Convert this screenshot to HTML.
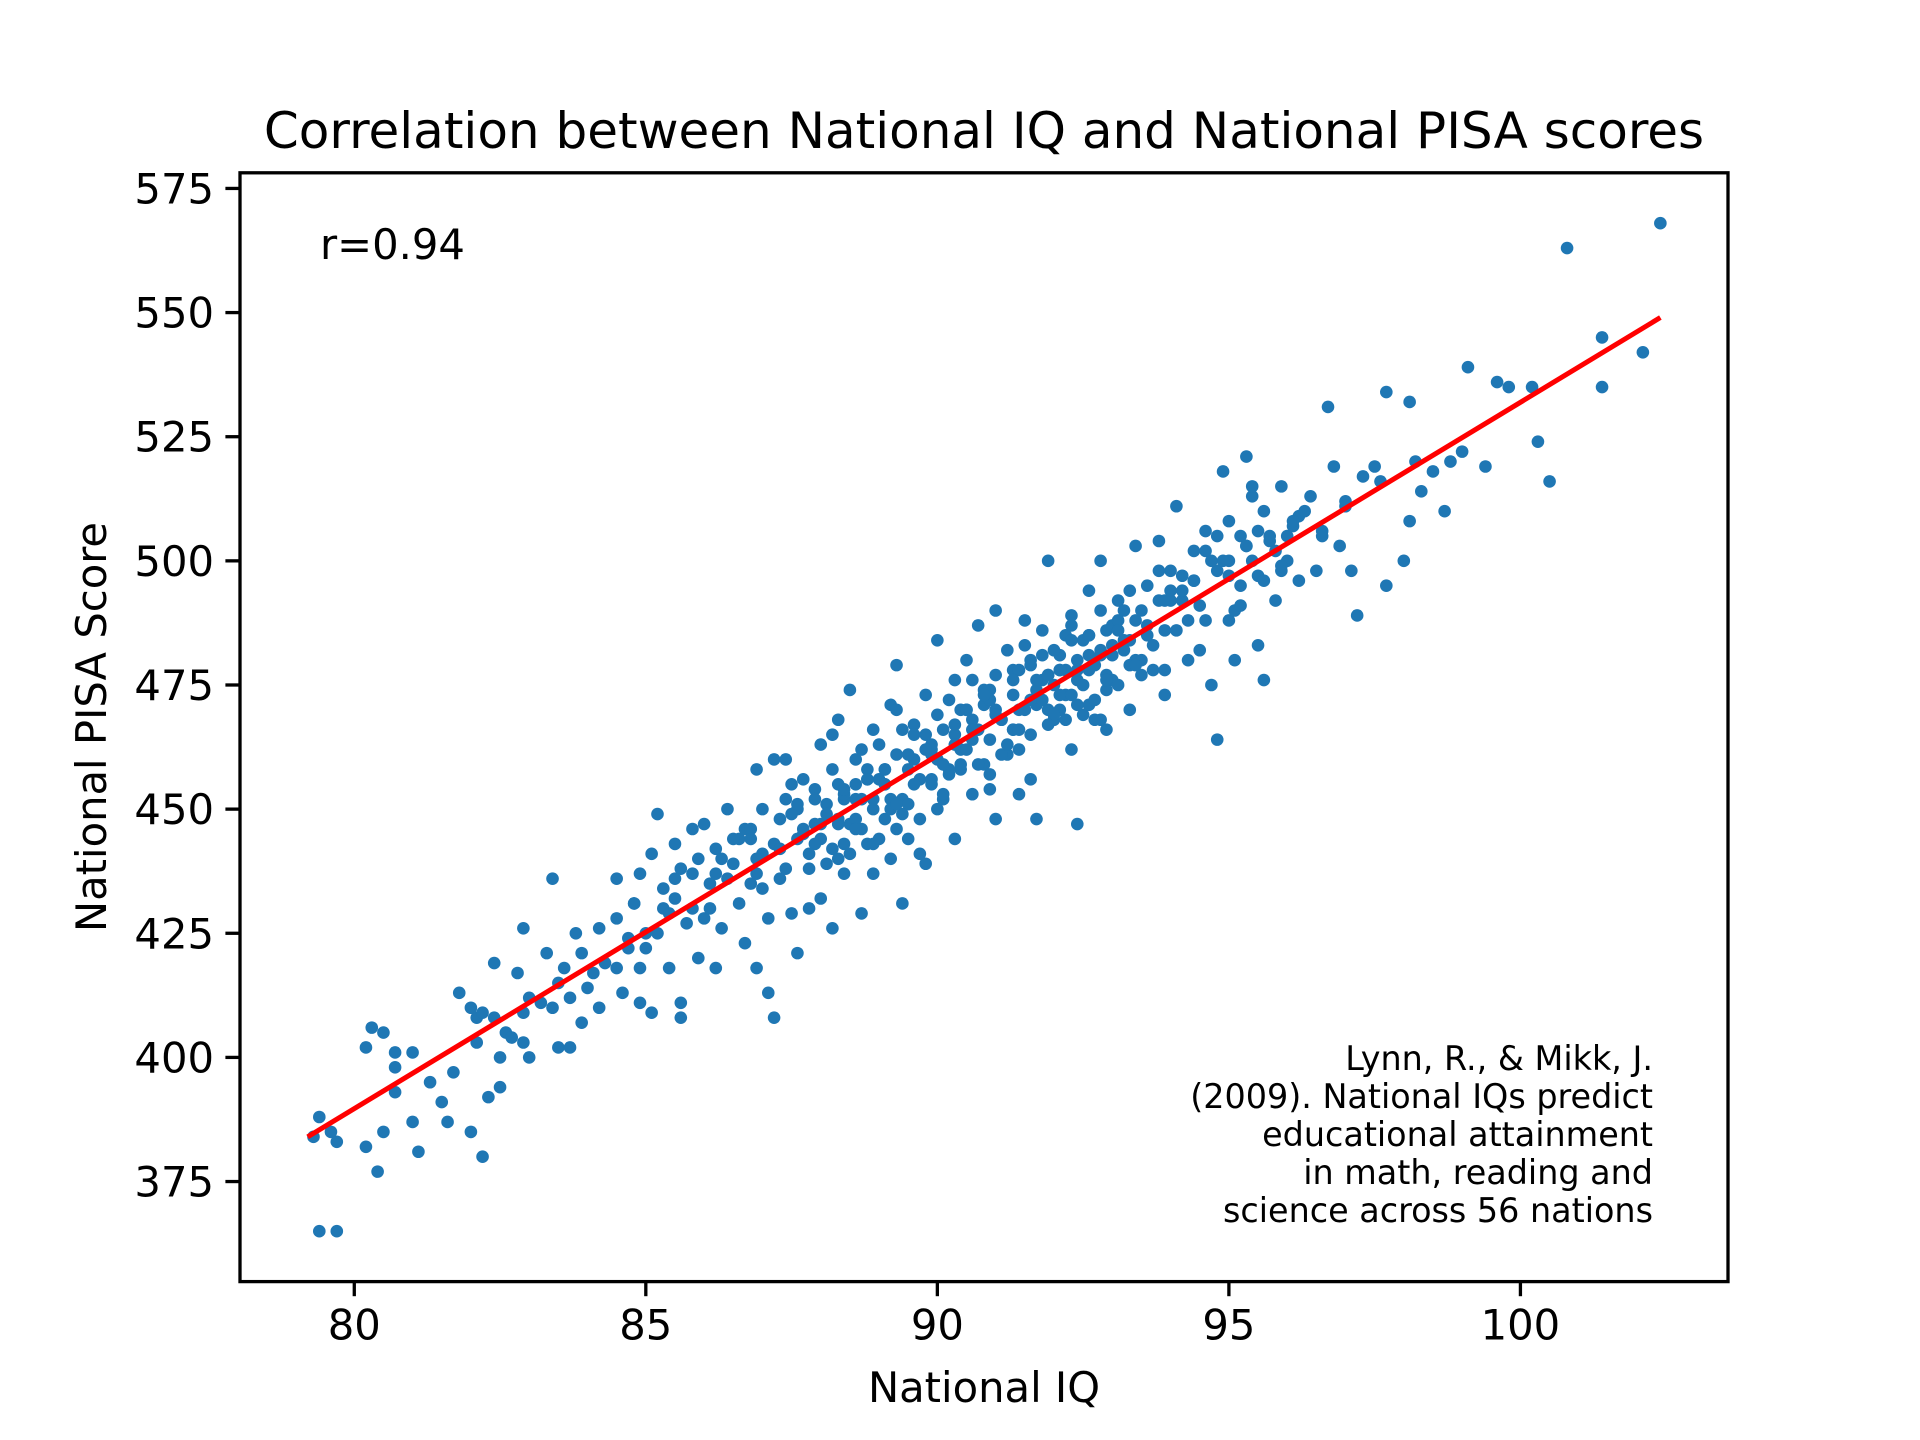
<!DOCTYPE html>
<html><head><meta charset="utf-8"><style>
html,body{margin:0;padding:0;background:#fff;}
svg{display:block;font-family:"DejaVu Sans","Liberation Sans",sans-serif;}
</style></head><body>
<svg id="chart" width="1920" height="1440" viewBox="0 0 1920 1440">
<rect x="0" y="0" width="1920" height="1440" fill="#fff"/>
<text x="984" y="148" font-size="50" text-anchor="middle">Correlation between National IQ and National PISA scores</text>
<g id="points"></g>
<g id="fit"></g>
<g id="xticks"></g>
<g id="yticks"></g>
<rect x="240" y="172.8" width="1488" height="1108.8" fill="none" stroke="#000" stroke-width="3.3"/>
<text x="320" y="259" font-size="41.7">r=0.94</text>
<g font-size="33.4" text-anchor="end">
<text x="1653" y="1070">Lynn, R., &amp; Mikk, J.</text>
<text x="1653" y="1108">(2009). National IQs predict</text>
<text x="1653" y="1146">educational attainment</text>
<text x="1653" y="1184">in math, reading and</text>
<text x="1653" y="1222">science across 56 nations</text>
</g>
<text x="984" y="1402" font-size="41.7" text-anchor="middle">National IQ</text>
<text x="0" y="0" font-size="41.7" text-anchor="middle" transform="translate(106,727) rotate(-90)">National PISA Score</text>
</svg>
<script>
const xTicks = [80, 85, 90, 95, 100];
const yTicks = [375, 400, 425, 450, 475, 500, 525, 550, 575];
const fitX = [79.2, 102.4];
const fitY = [384, 549];
const iqValues = [79.4,79.7,79.3,79.4,79.6,79.7,80.2,80.2,80.3,80.5,80.4,80.7,80.7,80.7,80.5,81.0,81.0,81.1,81.3,81.5,81.6,81.7,81.8,82.0,82.0,82.1,82.1,82.2,82.2,82.3,82.4,82.4,82.5,82.5,82.6,82.7,82.8,82.9,82.9,82.9,83.0,83.2,83.4,83.4,83.3,83.5,83.5,83.7,83.7,83.8,83.9,83.9,84.1,84.2,84.3,84.5,84.5,84.6,84.7,84.8,84.9,84.9,84.9,85.0,85.1,85.1,85.2,85.3,85.4,85.5,85.5,85.6,85.6,85.7,85.8,85.8,85.9,86.0,86.1,86.2,86.2,86.3,86.4,86.5,86.6,86.7,86.7,86.8,86.9,86.9,87.0,87.1,87.1,87.2,87.2,87.3,87.3,87.4,87.5,87.6,87.6,87.7,87.8,87.9,88.0,88.0,88.1,88.2,88.2,88.3,88.3,88.4,88.5,88.5,88.6,88.7,88.7,88.8,88.9,88.9,89.0,89.1,89.2,89.2,89.3,89.3,89.4,89.4,89.5,89.6,89.7,89.8,89.8,89.9,90.0,90.0,90.1,90.2,90.3,90.3,90.4,90.5,90.6,90.7,90.7,90.8,90.9,91.0,91.0,91.1,91.2,91.3,91.4,91.4,91.5,91.6,91.7,91.7,91.8,91.9,91.9,92.0,92.1,92.2,92.3,92.3,92.4,92.4,92.5,92.6,92.6,92.7,92.8,92.9,92.9,93.0,93.1,93.2,93.3,93.4,93.4,93.5,93.6,93.7,93.8,93.9,94.0,94.1,94.1,94.2,94.3,94.4,94.5,94.6,94.7,94.8,94.8,94.9,95.0,95.0,95.1,95.2,95.3,95.3,95.4,95.5,95.5,95.6,95.6,95.7,95.8,95.9,96.0,96.1,96.2,96.4,96.5,96.6,96.7,96.8,96.9,97.0,97.1,97.2,97.3,97.5,97.6,97.7,97.7,98.0,98.1,98.1,98.2,98.3,98.5,98.7,98.8,99.0,99.1,99.4,99.6,99.8,100.2,100.3,100.5,100.8,101.4,101.4,102.1,102.4,
86.3,86.6,86.9,87.0,87.2,87.4,87.5,87.7,87.8,87.9,88.0,88.1,88.2,88.3,88.4,88.5,88.6,88.6,88.7,88.8,88.9,89.0,89.0,89.1,89.2,89.3,89.4,89.5,89.5,89.6,89.7,89.8,89.9,90.0,90.0,90.1,90.2,90.3,90.4,90.4,90.5,90.6,90.6,90.7,90.8,90.9,91.0,91.0,91.1,91.2,91.3,91.3,91.4,91.5,91.6,91.7,91.8,91.9,92.0,92.0,92.1,92.2,92.2,92.3,92.4,92.5,92.6,92.6,92.7,92.8,92.9,93.0,93.0,93.1,93.2,93.3,93.4,93.5,93.6,93.7,93.8,93.9,94.0,94.2,94.4,94.6,94.8,95.0,95.2,95.4,95.6,95.8,96.0,85.5,85.8,86.0,85.2,84.5,84.0,83.6,83.0,88.9,89.7,90.9,91.6,92.8,93.9,94.5,89.3,88.2,87.4,90.5,91.5,
84.2,84.8,85.3,85.9,86.4,86.8,87.3,87.6,88.0,88.4,88.7,89.1,89.5,89.9,90.2,90.6,91.0,91.3,91.7,92.1,92.4,92.8,93.2,93.6,94.0,94.4,94.9,95.3,95.7,96.2,96.6,97.0,
85.0,85.6,86.1,86.5,87.0,87.5,87.9,88.3,88.8,89.2,89.6,90.1,90.5,90.8,91.2,91.6,92.0,92.3,92.7,93.1,93.5,93.9,94.3,94.7,95.1,95.5,95.9,96.3,
91.8,92.1,92.5,92.9,93.3,92.2,91.9,92.6,93.0,90.9,91.4,89.9,90.3,88.6,89.1,87.7,86.9,88.4,95.2,95.9,96.1,95.4,
87.6,87.9,88.1,88.4,88.6,88.9,89.1,89.4,89.6,89.9,90.1,90.4,90.6,90.9,91.1,91.4,91.6,91.9,92.1,92.4,92.6,92.9,93.1,93.4,
87.8,88.3,88.8,89.3,89.8,90.3,90.8,91.3,91.8,92.3,92.8,93.3,93.8,86.8,86.2,85.4,84.7,94.2,94.6,95.0];
const pisaValues = [365,365,384,388,385,383,382,402,406,405,377,398,393,401,385,401,387,381,395,391,387,397,413,385,410,408,403,380,409,392,419,408,400,394,405,404,417,409,403,426,400,411,410,436,421,402,415,412,402,425,421,407,417,410,419,436,428,413,422,431,418,437,411,425,409,441,449,430,418,443,432,411,408,427,446,437,420,447,435,418,442,426,450,439,431,423,446,435,418,458,441,428,413,408,460,448,436,452,429,444,421,456,438,447,463,432,451,426,442,468,455,437,474,447,460,429,452,443,466,437,456,448,471,440,461,479,431,452,444,467,456,439,473,462,484,450,466,457,444,476,462,470,453,487,466,459,474,448,490,468,461,478,470,453,483,465,474,448,486,477,500,468,481,473,489,462,476,447,484,494,471,479,500,486,466,476,492,482,470,503,488,477,495,483,504,473,492,511,486,497,480,502,491,506,475,464,498,518,488,508,480,495,521,503,513,483,497,510,476,504,492,515,500,507,496,513,498,506,531,519,503,512,498,489,517,519,516,495,534,500,532,508,520,514,518,510,520,522,539,519,536,535,535,524,516,563,545,535,542,568,
440,444,437,450,443,438,455,446,430,454,444,439,458,447,452,441,455,448,462,456,450,444,463,458,452,446,466,458,451,460,448,465,455,469,460,452,472,465,458,470,462,476,468,459,471,464,477,470,461,482,473,466,478,470,480,471,476,470,482,475,470,485,478,473,480,475,485,478,472,482,477,487,481,475,490,484,480,490,485,478,492,486,498,492,496,488,505,500,505,500,496,502,505,436,430,428,425,418,414,418,412,443,441,454,456,468,478,482,470,465,460,480,488,
426,431,434,440,436,446,442,450,447,453,446,455,461,463,458,466,469,466,476,473,478,481,484,487,494,496,500,503,505,509,505,511,
422,438,430,444,434,449,452,440,458,450,465,459,470,474,463,479,469,484,468,488,480,492,488,500,490,506,498,510,
472,478,469,474,479,468,477,485,483,472,466,456,463,452,455,445,440,443,491,499,508,515,
451,443,449,454,446,452,458,449,455,461,453,459,464,457,468,462,472,467,478,471,481,476,486,479,
441,448,456,451,462,467,473,476,481,487,490,494,498,444,437,429,424,494,502,497];

const L=240,R=1728,T=172.8,B=1281.6;
const xMin=78.04,xMax=103.56,yMin=354.85,yMax=578.15;
function sx(v){return L+(v-xMin)/(xMax-xMin)*(R-L);}
function sy(v){return B-(v-yMin)/(yMax-yMin)*(B-T);}
const NS='http://www.w3.org/2000/svg';
const pg=document.getElementById('points');
for(let i=0;i<iqValues.length;i++){
  const c=document.createElementNS(NS,'circle');
  c.setAttribute('cx',sx(iqValues[i]));
  c.setAttribute('cy',sy(pisaValues[i]));
  c.setAttribute('r',6.3);
  c.setAttribute('fill','#1f77b4');
  
  
  pg.appendChild(c);
}
const fl=document.createElementNS(NS,'line');
fl.setAttribute('x1',sx(fitX[0]));fl.setAttribute('y1',sy(fitY[0]));
fl.setAttribute('x2',sx(fitX[1]));fl.setAttribute('y2',sy(fitY[1]));
fl.setAttribute('stroke','#ff0000');fl.setAttribute('stroke-width',5);


document.getElementById('fit').appendChild(fl);
const xg=document.getElementById('xticks');
xTicks.forEach(t=>{
  const ln=document.createElementNS(NS,'line');
  ln.setAttribute('x1',sx(t));ln.setAttribute('x2',sx(t));
  ln.setAttribute('y1',B);ln.setAttribute('y2',B+14.6);
  ln.setAttribute('stroke','#000');ln.setAttribute('stroke-width',3.3);
  
  
  xg.appendChild(ln);
  const tx=document.createElementNS(NS,'text');
  tx.setAttribute('x',sx(t));tx.setAttribute('y',B+58);
  tx.setAttribute('font-size','41.7');tx.setAttribute('text-anchor','middle');
  tx.textContent=t;
  
  
  xg.appendChild(tx);
});
const yg=document.getElementById('yticks');
yTicks.forEach(t=>{
  const ln=document.createElementNS(NS,'line');
  ln.setAttribute('x1',L-14.6);ln.setAttribute('x2',L);
  ln.setAttribute('y1',sy(t));ln.setAttribute('y2',sy(t));
  ln.setAttribute('stroke','#000');ln.setAttribute('stroke-width',3.3);
  
  
  yg.appendChild(ln);
  const tx=document.createElementNS(NS,'text');
  tx.setAttribute('x',L-26);tx.setAttribute('y',sy(t)+15);
  tx.setAttribute('font-size','41.7');tx.setAttribute('text-anchor','end');
  tx.textContent=t;
  
  
  yg.appendChild(tx);
});
</script>
</body></html>
